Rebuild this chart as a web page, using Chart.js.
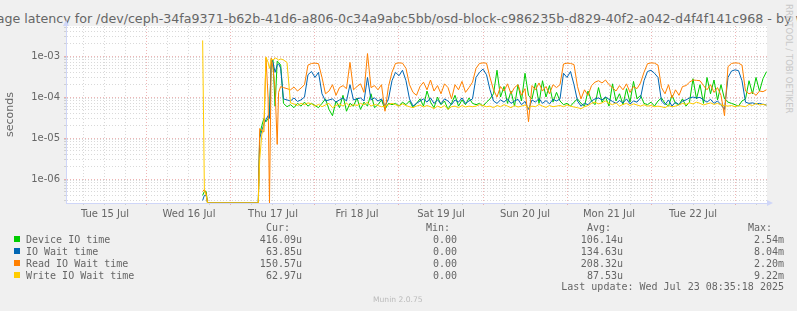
<!DOCTYPE html>
<html>
<head>
<meta charset="utf-8">
<title>Average latency - by week</title>
<script src="https://cdn.jsdelivr.net/npm/chart.js@4.4.1/dist/chart.umd.min.js"></script>
<style>
  html, body { margin: 0; padding: 0; }
  body { width: 797px; height: 311px; background: #f0f0f0; position: relative; overflow: hidden; color: #666; font-family: 'DejaVu Sans', sans-serif; }
  #chart { position: absolute; left: 0; top: 0; }
  #title { position: absolute; left: 0; top: 11px; width: 797px; display: flex; justify-content: center; white-space: nowrap; font-size: 12.65px; line-height: 15px; }
  #rrd { position: absolute; left: 784px; top: 4px; writing-mode: vertical-rl; font-size: 8.5px; color: #c8c8c8; white-space: nowrap; }
  .mono { position: absolute; font-family: 'DejaVu Sans Mono', monospace; font-size: 10px; line-height: 12px; white-space: pre; }
  .swatch { position: absolute; left: 14px; width: 6px; height: 6px; }
  #munin { position: absolute; left: 373px; top: 295px; font-size: 7.6px; line-height: 9px; color: #bbb; }
</style>
</head>
<body>
<div id="title"><span>Average latency for /dev/ceph-34fa9371-b62b-41d6-a806-0c34a9abc5bb/osd-block-c986235b-d829-40f2-a042-d4f4f141c968 - by week</span></div>
<div id="rrd">RRDTOOL / TOBI OETIKER</div>
<canvas id="chart" width="797" height="311"></canvas>
<div id="legend"></div>
<div id="munin">Munin 2.0.75</div>
<script>
// x positions are hours since Tue 15 Jul 00:00
const HOURS = [
  39.9, 40.4, 40.9, 41.3, 55.8, 56.2, 56.8, 57.4, 58.0, 58.6, 59.0, 59.5, 60.0, 60.6, 61.2, 61.6, 62.2,
  63, 64, 65, 66, 67, 68, 69, 70, 71, 72, 73, 74, 75, 76, 77, 78, 79, 80, 81, 82, 83, 84, 85, 86,
  87, 88, 89, 90, 91, 92, 93, 94, 95, 96, 97, 98, 99, 100, 101, 102, 103, 104, 105, 106, 107, 108, 109, 110,
  111, 112, 113, 114, 115, 116, 117, 118, 119, 120, 121, 122, 123, 124, 125, 126, 127, 128, 129, 130, 131, 132, 133, 134,
  135, 136, 137, 138, 139, 140, 141, 142, 143, 144, 145, 146, 147, 148, 149, 150, 151, 152, 153, 154, 155, 156, 157, 158,
  159, 160, 161, 162, 163, 164, 165, 166, 167, 168, 169, 170, 171, 172, 173, 174, 175, 176, 177, 178, 179, 180, 181, 182,
  183, 184, 185, 186, 187, 188, 189, 190, 191, 192, 193, 194, 195, 196, 197, 198, 199, 200, 201
];

// values in microseconds (0 = nothing, drawn on the bottom edge)
const DEVICE_IO_US = [
  0.4, 0.5, 0.5, 0, 0, 12, 20, 30, 25, 30, 40, 700, 800, 60, 750, 700, 600,
  70, 58, 65, 55, 70, 60, 75, 60, 70, 62, 55, 70, 90, 50, 35, 80, 55, 110, 45, 70, 60, 95, 50, 75,
  60, 120, 55, 65, 85, 50, 70, 65, 70, 60, 75, 65, 80, 55, 70, 90, 60, 140, 75, 55, 100, 65, 80, 50,
  70, 110, 60, 85, 65, 95, 70, 65, 70, 60, 75, 90, 120, 450, 100, 180, 70, 140, 60, 200, 80, 380, 110, 90,
  220, 70, 250, 100, 190, 75, 130, 80, 65, 70, 60, 75, 90, 70, 60, 140, 80, 65, 170, 75, 100, 60, 210, 80,
  120, 65, 160, 75, 240, 90, 110, 70, 65, 75, 60, 80, 95, 70, 60, 110, 70, 65, 90, 60, 75, 280, 90, 200,
  70, 300, 120, 260, 85, 200, 90, 75, 70, 65, 60, 80, 90, 250, 120, 300, 140, 280, 416.09
];
const IO_WAIT_US = [
  0.3, 0.4, 0.4, 0, 0, 10, 15, 22, 28, 35, 30, 850, 700, 400, 600, 650, 500,
  90, 85, 80, 95, 78, 85, 100, 350, 420, 300, 400, 120, 80, 85, 90, 75, 85, 95, 80, 200, 85, 90, 95, 80,
  300, 85, 95, 80, 90, 60, 90, 250, 400, 330, 450, 250, 90, 60, 70, 80, 90, 75, 95, 70, 85, 68, 90, 80,
  65, 85, 75, 95, 70, 80, 90, 300, 400, 480, 350, 150, 80, 70, 85, 75, 90, 70, 80, 88, 65, 78, 50, 85,
  75, 92, 70, 82, 68, 88, 80, 90, 380, 300, 420, 200, 80, 60, 70, 65, 80, 90, 95, 85, 100, 88, 78, 70,
  82, 72, 90, 68, 80, 75, 95, 250, 420, 450, 380, 300, 80, 65, 85, 60, 75, 65, 80, 85, 95, 100, 95, 98,
  85, 75, 88, 70, 80, 65, 50, 300, 430, 460, 440, 250, 75, 70, 72, 68, 70, 66, 63.85
];
const READ_WAIT_US = [
  0.5, 0.55, 0.45, 0, 0, 17, 15, 14, 900, 95, 0, 900, 500, 150, 7, 130, 180,
  170, 160, 150, 175, 140, 165, 200, 600, 660, 670, 650, 300, 120, 140, 200, 110, 170, 190, 160, 700, 150, 180, 210, 130,
  1150, 170, 190, 150, 200, 45, 180, 400, 660, 680, 670, 500, 200, 130, 110, 180, 230, 150, 260, 140, 190, 120, 210, 170,
  90, 200, 150, 240, 130, 170, 230, 500, 660, 680, 670, 300, 150, 100, 180, 140, 210, 120, 170, 200, 110, 160, 25, 190,
  150, 220, 140, 180, 120, 200, 170, 200, 640, 670, 660, 620, 180, 90, 150, 110, 190, 230, 250, 220, 260, 200, 170, 140,
  190, 150, 210, 130, 180, 160, 220, 400, 650, 680, 670, 600, 170, 120, 200, 95, 150, 110, 180, 190, 230, 260, 255, 250,
  190, 150, 200, 130, 170, 110, 35, 550, 660, 680, 670, 600, 140, 120, 130, 110, 140, 135, 150.57
];
const WRITE_WAIT_US = [
  2400, 0.5, 0.4, 0, 0, 3, 12, 20, 950, 700, 500, 850, 800, 900, 850, 800, 850,
  800, 700, 72, 68, 62, 70, 65, 72, 68, 60, 66, 58, 64, 70, 55, 62, 68, 60, 72, 58, 66, 62, 70, 64,
  75, 60, 66, 62, 58, 60, 65, 70, 65, 60, 68, 62, 58, 55, 60, 64, 57, 62, 58, 52, 60, 55, 62, 50,
  58, 60, 55, 62, 57, 60, 58, 60, 65, 62, 58, 60, 55, 62, 58, 65, 60, 55, 62, 57, 60, 64, 55, 60,
  58, 66, 60, 56, 62, 58, 60, 62, 58, 64, 60, 57, 55, 52, 58, 62, 70, 75, 68, 72, 80, 70, 65, 72,
  60, 66, 70, 62, 68, 64, 60, 65, 60, 62, 58, 60, 58, 55, 62, 58, 60, 64, 70, 66, 72, 68, 75, 70,
  64, 68, 72, 66, 70, 64, 62, 60, 62, 58, 62, 60, 58, 66, 62, 70, 64, 66, 62.97
];

const SERIES_NAMES = ['Device IO time', 'IO Wait time', 'Read IO Wait time', 'Write IO Wait time'];
const SERIES_COLORS = ['#00cc00', '#0066b3', '#ff8000', '#ffcc00'];
const CUR = ['416.09u', '63.85u', '150.57u', '62.97u'];
const MIN = ['0.00', '0.00', '0.00', '0.00'];
const AVG = ['106.14u', '134.63u', '208.32u', '87.53u'];
const MAX = ['2.54m', '8.04m', '2.20m', '9.22m'];

// label of each day, placed at noon
const DAY_LABELS = ['Tue 15 Jul', 'Wed 16 Jul', 'Thu 17 Jul', 'Fri 18 Jul', 'Sat 19 Jul', 'Sun 20 Jul', 'Mon 21 Jul', 'Tue 22 Jul'];
const Y_TICK_VALUES = [1e-6, 1e-5, 1e-4, 1e-3];
const Y_TICK_LABELS = ['1e-06', '1e-05', '1e-04', '1e-03'];

const X_MIN = 0.86, X_MAX = 201.14;
const Y_MIN = 2.6e-7, Y_MAX = 5.4e-3;

const MINOR_GRID = 'rgba(160,160,160,0.4)';
const MAJOR_GRID = 'rgba(225,120,120,0.55)';
const AXIS_COLOR = '#cfd6f8';

function toPoints(us) {
    return us.map((v, i) => ({ x: HOURS[i], y: v === 0 ? Y_MIN : v * 1e-6 }));
}

const allSeries = [DEVICE_IO_US, IO_WAIT_US, READ_WAIT_US, WRITE_WAIT_US];
const datasets = allSeries.map((s, i) => ({
    label: SERIES_NAMES[i],
    data: toPoints(s),
    borderColor: SERIES_COLORS[i],
    backgroundColor: SERIES_COLORS[i],
    borderWidth: 1,
    pointRadius: 0,
    tension: 0,
    order: 4 - i   // later series drawn on top, like rrdtool
}));

// white canvas + axis arrows
const canvasPlugin = {
    id: 'rrdCanvas',
    beforeDraw(chart) {
        const { ctx, chartArea: a } = chart;
        ctx.save();
        ctx.fillStyle = '#ffffff';
        ctx.fillRect(a.left, a.top, a.right - a.left, a.bottom - a.top);
        ctx.restore();
    },
    afterDraw(chart) {
        const { ctx, chartArea: a } = chart;
        ctx.save();
        ctx.fillStyle = AXIS_COLOR;
        ctx.beginPath();
        ctx.moveTo(a.right, a.bottom - 3);
        ctx.lineTo(a.right + 6, a.bottom);
        ctx.lineTo(a.right, a.bottom + 3);
        ctx.fill();
        ctx.beginPath();
        ctx.moveTo(a.left - 3, a.top);
        ctx.lineTo(a.left, a.top - 6);
        ctx.lineTo(a.left + 3, a.top);
        ctx.fill();
        ctx.restore();
    }
};

const chart = new Chart(document.getElementById('chart'), {
    type: 'line',
    data: { datasets },
    plugins: [canvasPlugin],
    options: {
        responsive: false,
        animation: false,
        layout: { padding: { top: 26, right: 30, left: 0, bottom: 0 } },
        plugins: { legend: { display: false }, tooltip: { enabled: false } },
        scales: {
            x: {
                type: 'linear',
                min: X_MIN,
                max: X_MAX,
                afterFit: s => { s.height = 108; },
                afterBuildTicks: s => {
                    const ticks = [];
                    for (let h = 6; h < X_MAX; h += 6) ticks.push({ value: h, major: h % 24 === 0 });
                    s.ticks = ticks;
                },
                grid: {
                    color: c => (c.tick && c.tick.value % 24 === 0) ? MAJOR_GRID : MINOR_GRID,
                    tickLength: 2
                },
                border: { color: AXIS_COLOR, dash: [1, 2] },
                ticks: {
                    autoSkip: false,
                    maxRotation: 0,
                    padding: 3,
                    color: '#666',
                    font: { family: 'DejaVu Sans', size: 10 },
                    callback: v => (v % 24 === 12) ? (DAY_LABELS[(v - 12) / 24] || '') : ''
                }
            },
            y: {
                type: 'logarithmic',
                min: Y_MIN,
                max: Y_MAX,
                afterFit: s => { s.width = 66; },
                afterBuildTicks: s => {
                    const ticks = [];
                    for (let e = -7; e <= -2; e++) {
                        for (let m = 1; m <= 9; m++) {
                            const v = m * Math.pow(10, e);
                            if (v >= Y_MIN && v <= Y_MAX) ticks.push({ value: v, major: m === 1 });
                        }
                    }
                    s.ticks = ticks;
                },
                grid: {
                    color: c => (c.tick && c.tick.major) ? MAJOR_GRID : MINOR_GRID,
                    tickLength: 2
                },
                border: { color: AXIS_COLOR, dash: [1, 2] },
                title: {
                    display: true,
                    text: 'seconds',
                    color: '#666',
                    font: { family: 'DejaVu Sans', size: 11 },
                    padding: { top: 4, bottom: 0 }
                },
                ticks: {
                    autoSkip: false,
                    padding: 4,
                    color: '#666',
                    font: { family: 'DejaVu Sans', size: 10 },
                    callback: (v, i, ticks) => {
                        if (!ticks[i].major) return '';
                        const k = Y_TICK_VALUES.findIndex(t => Math.abs(Math.log10(t) - Math.log10(v)) < 1e-6);
                        return k >= 0 ? Y_TICK_LABELS[k] : '';
                    }
                }
            }
        }
    }
});

// legend table below the graph, rrdtool style
const legend = document.getElementById('legend');
const rowTops = [233.5, 245.6, 257.7, 269.8];
const swatchTops = [236, 248, 260, 272];
let html = '';
html += '<div class="mono" style="left:266px;top:222px">Cur:</div>';
html += '<div class="mono" style="left:426px;top:222px">Min:</div>';
html += '<div class="mono" style="left:587px;top:222px">Avg:</div>';
html += '<div class="mono" style="left:748px;top:222px">Max:</div>';
SERIES_NAMES.forEach((name, i) => {
    const t = rowTops[i];
    html += `<div class="swatch" style="top:${swatchTops[i]}px;background:${SERIES_COLORS[i]}"></div>`;
    html += `<div class="mono" style="left:26px;top:${t}px">${name}</div>`;
    html += `<div class="mono" style="right:${797 - 302}px;top:${t}px">${CUR[i]}</div>`;
    html += `<div class="mono" style="right:${797 - 457}px;top:${t}px">${MIN[i]}</div>`;
    html += `<div class="mono" style="right:${797 - 623}px;top:${t}px">${AVG[i]}</div>`;
    html += `<div class="mono" style="right:${797 - 784}px;top:${t}px">${MAX[i]}</div>`;
});
html += '<div class="mono" style="right:13px;top:281px">Last update: Wed Jul 23 08:35:18 2025</div>';
legend.innerHTML = html;
</script>
</body>
</html>
